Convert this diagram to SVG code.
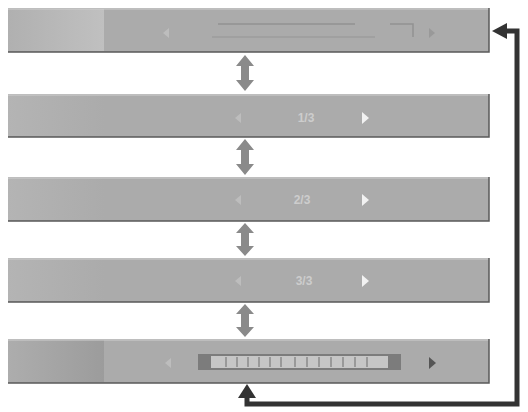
<svg xmlns="http://www.w3.org/2000/svg" width="528" height="412" viewBox="0 0 528 412">
<defs>
<style>
.bar{fill:#ababab;stroke:none}
.edge{fill:none;stroke:#5a5a5a;stroke-width:1.5}
.hi{fill:none;stroke:#d0d0d0;stroke-width:1}
.dbl{fill:#8a8a8a}
.pg{font-family:"Liberation Sans",Arial,sans-serif;font-size:12px;fill:#cdcdcd;font-weight:bold}
.arrL{fill:#bdbdbd}
.arrR{fill:#f2f2f2}
</style>
<linearGradient id="leftA" x1="0" x2="1"><stop offset="0" stop-color="#b0b0b0"/><stop offset="1" stop-color="#c0c0c0"/></linearGradient>
<linearGradient id="leftB" x1="0" x2="1"><stop offset="0" stop-color="#adadad"/><stop offset="1" stop-color="#9c9c9c"/></linearGradient>
<linearGradient id="leftC" x1="0" x2="1"><stop offset="0" stop-color="#b4b4b4"/><stop offset="1" stop-color="#ababab"/></linearGradient>
</defs>
<g id="bar1">
<rect class="bar" x="8" y="8" width="481" height="44"/>
<rect x="8" y="9" width="96" height="42" fill="url(#leftA)"/>
<path class="hi" d="M8 9H489"/>
<path class="edge" d="M489 8V52H8"/>
<polygon class="arrL" points="169,28 163,33 169,38"/>
<path d="M218 24H355" stroke="#929292" stroke-width="1.5"/>
<path d="M212 37H375" stroke="#9c9c9c" stroke-width="1.5"/>
<path d="M390 24H413V37" fill="none" stroke="#929292" stroke-width="1.5"/>
<polygon points="429,28 435,33 429,38" fill="#999"/>
</g>
<g id="bar2">
<rect class="bar" x="8" y="94" width="481" height="43"/>
<rect x="8" y="95" width="96" height="41" fill="url(#leftC)"/>
<path class="hi" d="M8 95H489"/>
<path class="edge" d="M489 94V137H8"/>
<polygon class="arrL" points="241,113 235,118 241,123"/>
<text class="pg" x="306" y="122" text-anchor="middle">1/3</text>
<polygon class="arrR" points="362,112 369,118 362,124"/>
</g>
<g id="bar3">
<rect class="bar" x="8" y="177" width="481" height="44"/>
<rect x="8" y="178" width="96" height="42" fill="url(#leftC)"/>
<path class="hi" d="M8 178H489"/>
<path class="edge" d="M489 177V221H8"/>
<polygon class="arrL" points="241,195 235,200 241,205"/>
<text class="pg" x="302" y="204" text-anchor="middle">2/3</text>
<polygon class="arrR" points="362,194 369,200 362,206"/>
</g>
<g id="bar4">
<rect class="bar" x="8" y="258" width="481" height="44"/>
<rect x="8" y="259" width="96" height="42" fill="url(#leftC)"/>
<path class="hi" d="M8 259H489"/>
<path class="edge" d="M489 258V302H8"/>
<polygon class="arrL" points="241,276 235,281 241,286"/>
<text class="pg" x="304" y="285" text-anchor="middle">3/3</text>
<polygon class="arrR" points="362,275 369,281 362,287"/>
</g>
<g id="bar5">
<rect class="bar" x="8" y="339" width="481" height="44"/>
<rect x="8" y="340" width="96" height="42" fill="url(#leftB)"/>
<path class="hi" d="M8 340H489"/>
<path class="edge" d="M489 339V383H8"/>
<polygon class="arrL" points="171,358 165,363 171,368" fill="#9a9a9a"/>
<rect x="198" y="354" width="203" height="16" fill="#7c7c7c"/>
<rect x="211" y="356" width="177" height="12" fill="#c6c6c6"/>
<g stroke="#8a8a8a" stroke-width="1.5">
<path d="M226 357V367M237 357V367M248 357V367M259 357V367M270 357V367M281 357V367M295 357V367M307 357V367M319 357V367M331 357V367M343 357V367M355 357V367M367 357V367"/>
</g>
<polygon points="429,357 436,363 429,369" fill="#555"/>
</g>
<g id="connectors">
<g class="dbl">
<polygon points="245,55 254,66 249,66 249,80 254,80 245,91 236,80 241,80 241,66 236,66"/>
<polygon points="245,139 254,150 249,150 249,164 254,164 245,175 236,164 241,164 241,150 236,150"/>
<polygon points="245,223 254,233 249,233 249,246 254,246 245,256 236,246 241,246 241,233 236,233"/>
<polygon points="245,304 254,314 249,314 249,327 254,327 245,337 236,327 241,327 241,314 236,314"/>
</g>
<path d="M247 398V404H517V31H506" fill="none" stroke="#333" stroke-width="5"/>
<polygon points="247,384 256,398 238,398" fill="#333"/>
<polygon points="492,31 507,23 507,39" fill="#333"/>
</g>
</svg>
